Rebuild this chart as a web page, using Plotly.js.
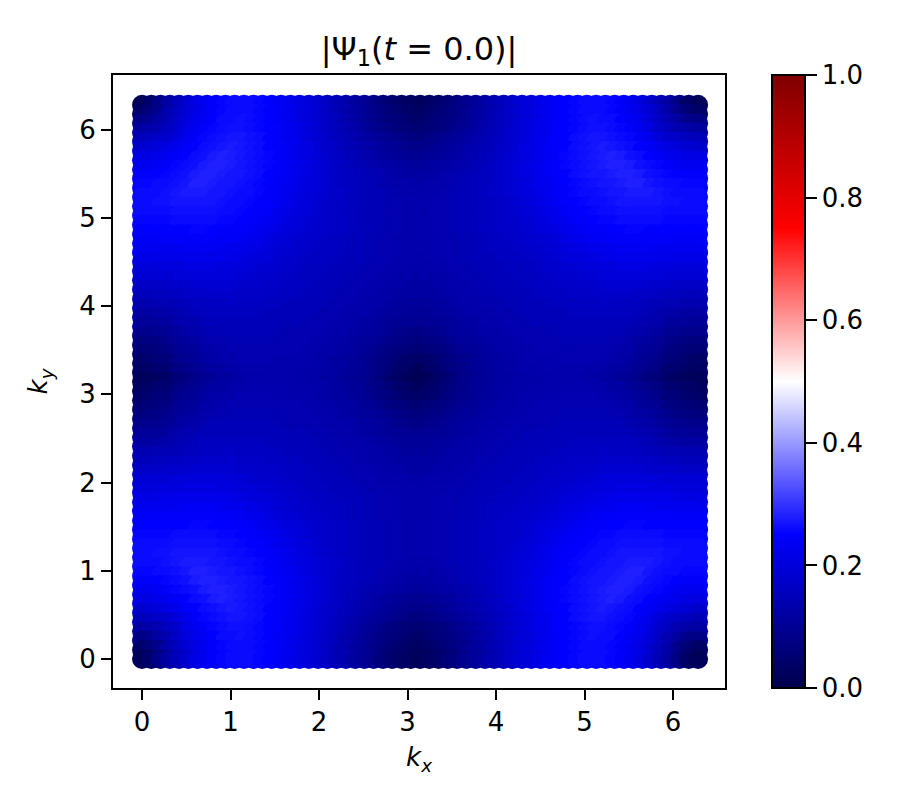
<!DOCTYPE html>
<html>
<head>
<meta charset="utf-8">
<script src="https://cdn.plot.ly/plotly-3.0.1.min.js"></script>
<style>body { margin: 0; background: white; }</style>
</head>
<body>
<div id="chart" style="width:898px;height:806px;"></div>
<script>
// grid of k values, same for kx and ky
const kValues = [0,.105,.209,.314,.419,.524,.628,.733,.838,.942,1.047,1.152,1.257,1.361,1.466,1.571,1.676,1.78,1.885,1.99,2.094,2.199,2.304,2.409,2.513,2.618,2.723,2.827,2.932,3.037,3.142,3.246,3.351,3.456,3.56,3.665,3.77,3.875,3.979,4.084,4.189,4.294,4.398,4.503,4.608,4.712,4.817,4.922,5.027,5.131,5.236,5.341,5.445,5.55,5.655,5.76,5.864,5.969,6.074,6.178,6.283];

// |Psi| in hundredths, read off the lower left quadrant (the picture is
// symmetric about k = pi in both directions, so the others reuse these)
const psiQuadrant = [
[2,4,8,12,15,18,21,23,24.5,25.5,26,26,26,25.5,25,24,23,21.5,20,19,17,15.5,14,12,10.5,9,7,5.5,4,3,2],
[4,6,9,13,16,19,21,23,24.5,25.5,26,26,26,25.5,25,24,23,21.5,20,19,17,15.5,14,12,11,9,7.5,6,5,4,3],
[8,9,12,14,17,20,22,23.5,25,26,26,26.5,26,25.5,25,24,23,21.5,20,19,17,16,14,12.5,11,9.5,8,7,6,5,4],
[12,13,14,16,18,21,23,24.5,25.5,26,26.5,26.5,26,25.5,25,24.5,23,22,20.5,19,17.5,16,14.5,13,11.5,10,9,7.5,6.5,6,5],
[15,16,17,18,20,22,24,25.5,26,26.5,27,27,26.5,26,25,24.5,23,22,20.5,19,18,16.5,15,14,12.5,11.5,10.5,9.5,8.5,7.5,7],
[18,19,20,21,22,24,25,26,26.5,27,27.5,27,26.5,26,25,24.5,23.5,22,21,19.5,18,17,15.5,14.5,13.5,12.5,11.5,10.5,9.5,9,8.5],
[21,21,22,23,24,25,26,26.5,27.5,28,27.5,27,26.5,26,25.5,24.5,23.5,22,21,19.5,18.5,17,16,15,14,13,12,11,10.5,10,9.5],
[23,23,23.5,24.5,25.5,26,26.5,27.5,28,28,27.5,27,26.5,26,25.5,24.5,23.5,22,21,20,18.5,17.5,16.5,15.5,14.5,13.5,13,12.5,12,11.5,11],
[24.5,24.5,25,25.5,26,26.5,27.5,28,28,27.5,27,27,26.5,26,25,24.5,23.5,22,21,20,18.5,17.5,16.5,16,15,14.5,14,13,12.5,12,12],
[25.5,25.5,26,26,26.5,27,28,28,27.5,27,27,26.5,26,25.5,25,24,23,22,20.5,19.5,18.5,17.5,16.5,16,15.5,15,14,13.5,13,13,12.5],
[26,26,26,26.5,27,27.5,27.5,27.5,27,27,26.5,26,26,25.5,24.5,24,22.5,21.5,20.5,19.5,18.5,17.5,17,16,15.5,15,14.5,14,13.5,13,13],
[26,26,26.5,26.5,27,27,27,27,27,26.5,26,26,25.5,25,24.5,23.5,22.5,21,20,19,18,17,16.5,16,15.5,15,14.5,14,14,13.5,13.5],
[26,26,26,26,26.5,26.5,26.5,26.5,26.5,26,26,25.5,25,24.5,24,22.5,21.5,20.5,19.5,18.5,17.5,17,16.5,16,15.5,15,14.5,14,14,13.5,13.5],
[25.5,25.5,25.5,25.5,26,26,26,26,26,25.5,25.5,25,24.5,24,23,22,21,20,19,18,17.5,17,16.5,16,15.5,15,14.5,14,14,13.5,13.5],
[25,25,25,25,25,25,25.5,25.5,25,25,24.5,24.5,24,23,22,21,20.5,19.5,18.5,18,17.5,17,16.5,16,15.5,15,14.5,14,14,13.5,13.5],
[24,24,24,24.5,24.5,24.5,24.5,24.5,24.5,24,24,23.5,22.5,22,21,20,19,18.5,18,17.5,17,16.5,16,15.5,15,14.5,14,14,13.5,13.5,13.5],
[23,23,23,23,23,23.5,23.5,23.5,23.5,23,22.5,22.5,21.5,21,20.5,19,18.5,18,17.5,17,16.5,16.5,16,15.5,15,14.5,14,14,13.5,13.5,13.5],
[21.5,21.5,21.5,22,22,22,22,22,22,22,21.5,21,20.5,20,19.5,18.5,18,17.5,17,16.5,16.5,16,15.5,15,15,14.5,14,14,13.5,13.5,13],
[20,20,20,20.5,20.5,21,21,21,21,20.5,20.5,20,19.5,19,18.5,18,17.5,17,16.5,16,16,15.5,15,15,14.5,14,14,13.5,13.5,13,13],
[19,19,19,19,19.5,19.5,19.5,20,20,19.5,19.5,19,18.5,18,18,17.5,17,16.5,16,16,15.5,15,15,14.5,14,14,13.5,13,13,13,12.5],
[17,17,17,17.5,18,18,18.5,18.5,18.5,18.5,18.5,18,17.5,17.5,17,17,16.5,16.5,16,15.5,15,15,14.5,14,14,13.5,13,13,12.5,12,12],
[15.5,15.5,16,16,16.5,17,17,17.5,17.5,17.5,17.5,17,17,17,16.5,16.5,16,16,15.5,15,15,14.5,14,14,13.5,13,13,12.5,12,12,12],
[14,14,14.5,14.5,15,15.5,16,16.5,16.5,16.5,17,16.5,16.5,16.5,16,16,15.5,15.5,15,15,14.5,14,14,13.5,13,13,12.5,12,11.5,11,11],
[12,12,12.5,13,14,14.5,15.5,16,16,16,16,16,16,16,15.5,15.5,15,15,15,14.5,14,14,13.5,13,13,12.5,12,11.5,11,10.5,10.5],
[10.5,11,11,11.5,13,14,14,15,15.5,15.5,15.5,15.5,15.5,15.5,15,15,14.5,15,14.5,14,14,13.5,13,13,12,12,11,10.5,10,10,9.5],
[9,9,9.5,10,11.5,12.5,13,14,14.5,15,15,15,15,15,15,14.5,14,14,14,14,13.5,13,13,12.5,12,11.5,11,10,9,8.5,8],
[7,7.5,8,9,10.5,11.5,12,13,14,14,14.5,14.5,14.5,14.5,14.5,14,14,14,14,13.5,13,13,12.5,12,11,11,10,9,8,7.5,7],
[5.5,6,7,7.5,9.5,10.5,11,12.5,13,13.5,14,14,14,14,14,14,14,14,13.5,13,13,12.5,12,11.5,10.5,10,9,7.5,7,6,5.5],
[4,5,6,6.5,8.5,9.5,10.5,12,12.5,13,13.5,14,14,14,14,13.5,13.5,13.5,13.5,13,12.5,12,11.5,11,10,9,8,7,5,4.5,3.5],
[3,4,5,5,7.5,8.5,9.5,11,12,12,13,13,13.5,13.5,13.5,13.5,13.5,13,13,13,12.5,12,11.5,10.5,10,8.5,7.5,6,4.5,3.5,2],
[2,2.5,3,4,6,7,8.5,10,10.5,11.5,12,12.5,13,13,13.5,13.5,13,13,13,12.5,12,12,11,10.5,9.5,8.5,7,5,3.5,2,1]
];

const colorbarTicks = [0, 0.2, 0.4, 0.6, 0.8, 1];
const axisTicks = [0, 1, 2, 3, 4, 5, 6];

// matplotlib "seismic"
const seismic = [
    [0, 'rgb(0,0,77)'],
    [0.25, 'rgb(0,0,255)'],
    [0.5, 'rgb(255,255,255)'],
    [0.75, 'rgb(255,0,0)'],
    [1, 'rgb(128,0,0)']
];

const mirror = row => row.concat(row.slice(0, -1).reverse());
const psiGrid = mirror(psiQuadrant).map(mirror);

// top row first so that lower points sit on top, as in the original
let xs = [], ys = [], vals = [];
for (let j = kValues.length - 1; j >= 0; j--) {
    for (let i = 0; i < kValues.length; i++) {
        xs.push(kValues[i]);
        ys.push(kValues[j]);
        vals.push(psiGrid[j][i] / 100);
    }
}

const font = { family: '"DejaVu Sans", sans-serif', size: 26, color: 'black' };

const axis = {
    range: [-0.328, 6.587],
    tickvals: axisTicks,
    ticks: 'outside',
    ticklen: 10,
    tickwidth: 2,
    tickcolor: 'black',
    showline: true,
    linewidth: 2,
    linecolor: 'black',
    mirror: true,
    showgrid: false,
    zeroline: false,
    tickfont: font
};

Plotly.newPlot('chart', [{
    type: 'scatter',
    mode: 'markers',
    x: xs,
    y: ys,
    marker: {
        size: 20,
        color: vals,
        cmin: 0,
        cmax: 1,
        colorscale: seismic,
        line: { width: 0 },
        colorbar: {
            x: 1.0768,
            xanchor: 'left',
            xpad: 0,
            ypad: 0,
            y: 0.5,
            len: 1,
            thickness: 33,
            outlinewidth: 2,
            outlinecolor: 'black',
            ticks: 'outside',
            ticklen: 11,
            tickwidth: 2,
            tickcolor: 'black',
            tickvals: colorbarTicks,
            tickformat: '.1f',
            tickfont: font
        }
    }
}], {
    width: 898,
    height: 806,
    margin: { l: 113, r: 173, t: 75, b: 118 },
    paper_bgcolor: 'white',
    plot_bgcolor: 'white',
    font: font,
    showlegend: false,
    title: {
        text: '|Ψ<sub>1</sub>(<i>t</i> = 0.0)|',
        font: { family: font.family, size: 32, color: 'black' },
        x: 0.5,
        xref: 'paper',
        xanchor: 'center',
        y: 0.926,
        yanchor: 'bottom'
    },
    xaxis: Object.assign({}, axis, {
        title: { text: '<i>k<sub>x</sub></i>', font: font, standoff: 12 }
    }),
    yaxis: Object.assign({}, axis, {
        range: [-0.329, 6.62],
        title: { text: '<i>k<sub>y</sub></i>', font: font, standoff: 24 }
    })
}, { displayModeBar: false, staticPlot: true });
</script>
</body>
</html>
